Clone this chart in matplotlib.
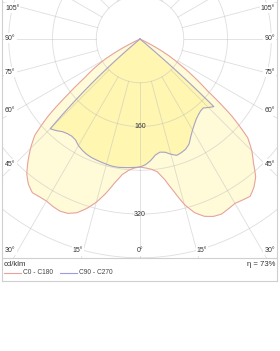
import numpy as np
import matplotlib
matplotlib.use("Agg")
import matplotlib.pyplot as plt
from matplotlib.patches import Rectangle
from matplotlib.lines import Line2D

# ---------------- data (cd/klm) ----------------
gamma = [0, 2.5, 5, 7.5, 10, 12.5, 15, 17.5, 20, 22.5, 25, 27.5, 30, 32.5, 35, 37.5,
         40, 42.5, 45, 47.5, 50, 52.5, 55, 57.5, 60, 62.5, 65, 70, 80, 90]
c0   = [234, 236, 239, 245, 261, 285, 313, 333, 345, 351, 353, 350, 347, 349, 351, 342,
        329, 307, 289, 267, 219, 155, 119, 86, 60, 27, 0, 0, 0, 0]
c180 = [234, 236, 241, 250, 267, 289, 309, 325, 338, 345, 347, 345, 342, 342, 343, 335,
        322, 303, 283, 261, 219, 165, 124, 99, 73, 37, 0, 0, 0, 0]
c90  = [234, 230, 223, 214, 210, 212, 218, 223, 221, 218, 212, 201, 192, 185, 179, 175,
        172, 171, 177, 183, 0, 0, 0, 0, 0, 0, 0, 0, 0, 0]
c270 = [234, 235, 236, 237, 238, 238, 237, 236, 235, 234, 232, 229, 225, 219, 217, 218,
        221, 227, 232, 116, 0, 0, 0, 0, 0, 0, 0, 0, 0, 0]

ring_values = [80, 160, 240, 320, 400]
ring_labels = [160, 320]
spoke_step = 15
series_names = ["C0 - C180", "C90 - C270"]
unit_label = "cd/klm"
eta_label = "η = 73%"

left_labels = ["105°", "90°", "75°", "60°", "45°", "30°"]
bottom_labels = ["15°", "0°", "15°"]
right_labels = ["105°", "90°", "75°", "60°", "45°", "30°"]

# ---------------- layout ----------------
W, H = 280, 351
plt.rcParams["font.family"] = ["Liberation Sans", "DejaVu Sans"]
fig = plt.figure(figsize=(W / 100, H / 100), dpi=100)

cx, cy = 140, 39          # pole, pixels from top-left
scale = 0.547             # px per cd
rmax = 480
R = rmax * scale
ax = fig.add_axes([(cx - R) / W, (H - cy - R) / H, 2 * R / W, 2 * R / H], projection="polar")
ax.set_theta_zero_location("S")
ax.set_theta_direction(1)
ax.set_ylim(0, rmax)
ax.axis("off")

clip = Rectangle((3 / W, (H - 258) / H), 274 / W, 258 / H, transform=fig.transFigure)

def curve(right, left):
    g = np.array(gamma, dtype=float)
    th = np.concatenate([-g[::-1], g[1:]])
    r = np.concatenate([np.array(left, float)[::-1], np.array(right, float)[1:]])
    return np.deg2rad(th), r

artists = []
th_o, r_o = curve(c0, c180)
th_i, r_i = curve(c90, c270)

p_o = ax.fill(th_o, r_o, color="#fffad8", zorder=1, lw=0)[0]
p_i = ax.fill(th_i, r_i, color="#fff6b1", zorder=2, lw=0)[0]
l_o, = ax.plot(th_o, r_o, color="#e6a39c", lw=0.8, zorder=5)
l_i, = ax.plot(th_i, r_i, color="#a7a2c4", lw=0.8, zorder=5)
for a in (p_o, p_i, l_o, l_i):
    a.get_path()._interpolation_steps = 10
    artists.append(a)

grid_kw = dict(color="#bdbdbd", lw=0.6, alpha=0.5, zorder=3)
circ = np.linspace(0, 2 * np.pi, 721)
for rv in ring_values:
    ln, = ax.plot(circ, np.full_like(circ, rv), **grid_kw)
    artists.append(ln)
for ang in range(-180, 180, spoke_step):
    ln, = ax.plot([np.deg2rad(ang)] * 2, [ring_values[0], rmax], **grid_kw)
    artists.append(ln)

for a in artists:
    a.set_clip_path(clip)

for rv in ring_labels:
    ax.text(0, rv, str(rv), ha="center", va="center", fontsize=5, color="#333333", zorder=6)

# ---------------- angle labels ----------------
txt_kw = dict(fontsize=5, color="#333333", va="center",
              bbox=dict(boxstyle="square,pad=0.15", fc="white", ec="none"))
left_y = [8, 38, 72, 111, 164, 250]
for s, y in zip(left_labels, left_y):
    fig.text(5 / W, 1 - y / H, s, ha="left", **txt_kw)
for s, y in zip(right_labels, left_y):
    fig.text(275 / W, 1 - y / H, s, ha="right", **txt_kw)
for s, x in zip(bottom_labels, [78, 140, 202]):
    fig.text(x / W, 1 - 251 / H, s, ha="center", **txt_kw)

# ---------------- frame ----------------
fc = "#cfcfcf"
for xs, ys in [([2, 2], [0, 281]), ([277, 277], [0, 281]),
               ([2, 277], [258, 258]), ([2, 277], [281, 281])]:
    fig.add_artist(Line2D([x / W for x in xs], [1 - y / H for y in ys],
                          transform=fig.transFigure, color=fc, lw=0.8))

# ---------------- footer ----------------
fig.text(4 / W, 1 - 265 / H, unit_label, fontsize=5.6, color="#333333", va="center")
fig.text(275 / W, 1 - 265 / H, eta_label, fontsize=5.6, color="#333333", va="center", ha="right")
leg_colors = ["#e6a39c", "#9c9ce0"]
for name, col, x0 in zip(series_names, leg_colors, [4, 60]):
    fig.add_artist(Line2D([x0 / W, (x0 + 17) / W], [1 - 273 / H] * 2,
                          transform=fig.transFigure, color=col, lw=0.8))
    fig.text((x0 + 19) / W, 1 - 273 / H, name, fontsize=4.8, color="#444444", va="center")

fig.savefig("out.png", dpi=100, facecolor="white")
